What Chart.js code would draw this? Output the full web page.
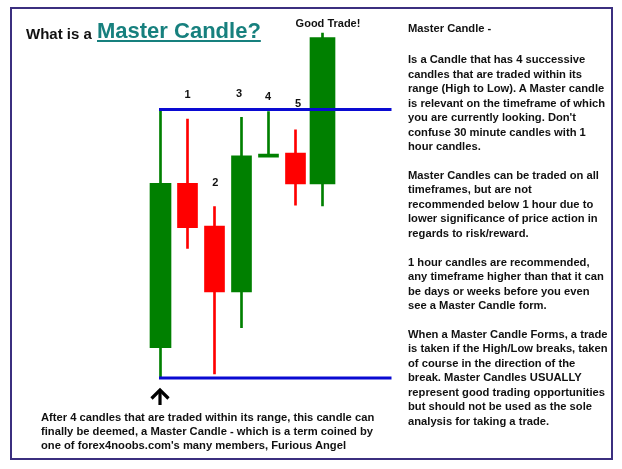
<!DOCTYPE html>
<html>
<head>
<meta charset="utf-8">
<script src="https://cdn.jsdelivr.net/npm/chart.js@4"></script>
<style>
  html, body { margin: 0; padding: 0; background: #fff; }
  #wrap { position: relative; width: 622px; height: 469px; overflow: hidden; font-family: "Liberation Sans", Arial, sans-serif; color: #111; }
  #c { position: absolute; left: 0; top: 0; }
  .frame { position: absolute; left: 10px; top: 7px; width: 603px; height: 453px; box-sizing: border-box; border: 2px solid #3b2f7f; }
  .t { position: absolute; white-space: nowrap; font-weight: bold; }
  .s11 { font-size: 11px; line-height: 11px; }
  .para { font-size: 11.2px; line-height: 14.45px; }
</style>
</head>
<body>
<div id="wrap">
  <canvas id="c" width="622" height="469"></canvas>
  <div class="frame"></div>
  <div class="t" style="left:26px;top:26.3px;font-size:15px;line-height:15px;">What is a</div>
  <div class="t" style="left:97px;top:20.4px;font-size:22px;line-height:22px;color:#17807e;text-decoration:underline;text-decoration-thickness:2px;text-underline-offset:2px;">Master Candle?</div>
  <div class="t s11" style="left:278px;width:100px;text-align:center;top:18px;">Good Trade!</div>
  <div class="t s11" id="lab1" style="left:184.6px;top:88.6px;">1</div>
  <div class="t s11" id="lab2" style="left:212.2px;top:176.9px;">2</div>
  <div class="t s11" id="lab3" style="left:235.9px;top:87.9px;">3</div>
  <div class="t s11" id="lab4" style="left:264.9px;top:90.6px;">4</div>
  <div class="t s11" id="lab5" style="left:294.9px;top:97.9px;">5</div>
  <div class="t para" style="left:408px;top:20.6px;">Master Candle -</div>
  <div class="t para" style="left:408px;top:52.3px;">Is a Candle that has 4 successive<br>candles that are traded within its<br>range (High to Low). A Master candle<br>is relevant on the timeframe of which<br>you are currently looking. Don't<br>confuse 30 minute candles with 1<br>hour candles.<br><br>Master Candles can be traded on all<br>timeframes, but are not<br>recommended below 1 hour due to<br>lower significance of price action in<br>regards to risk/reward.<br><br>1 hour candles are recommended,<br>any timeframe higher than that it can<br>be days or weeks before you even<br>see a Master Candle form.<br><br>When a Master Candle Forms, a trade<br>is taken if the High/Low breaks, taken<br>of course in the direction of the<br>break. Master Candles USUALLY<br>represent good trading opportunities<br>but should not be used as the sole<br>analysis for taking a trade.</div>
  <div class="t" style="left:41px;top:409.8px;font-size:11.2px;line-height:14.2px;">After 4 candles that are traded within its range, this candle can<br>finally be deemed, a Master Candle - which is a term coined by<br>one of forex4noobs.com's many members, Furious Angel</div>
  <svg style="position:absolute;left:0;top:0;" width="622" height="469">
    <path d="M151.5 398.5 L160 390 L168.5 398.5" fill="none" stroke="#000" stroke-width="3.2"/>
    <path d="M160 391 V405" fill="none" stroke="#000" stroke-width="3.2"/>
  </svg>
</div>
<script>
// Candles: 0 = master candle, 1..5 = candles inside its range / numbered, 6 = breakout ("Good Trade!")
const candles = ['Master', '1', '2', '3', '4', '5', 'Good Trade!'];
const opens  = [11.3, 72.5, 56.6, 32.1, 83.4, 83.8, 72.3];
const closes = [72.5, 56.0, 32.1, 82.7, 83.4, 72.3, 126.8];
const highs  = [100.0, 96.4, 63.8, 97.1, 99.2, 92.4, 128.5];
const lows   = [0.0, 48.3, 1.5, 18.7, 83.4, 64.4, 64.1];

const GREEN = '#008000', RED = '#ff0000', BLUE = '#0a0ad2';
const colorOf = i => (closes[i] >= opens[i] ? GREEN : RED);
const idx = candles.map((_, i) => i);
const bodyPts = sel => idx.filter(sel).map(i => ({ x: i, y: [opens[i], closes[i]] }));
const bodyColor = ctx => colorOf(ctx.raw.x);
const last = candles.length - 1;

const chart = new Chart(document.getElementById('c'), {
  type: 'bar',
  data: {
    datasets: [
      {
        label: 'wicks', order: 3, grouped: false, barThickness: 2,
        data: idx.map(i => ({ x: i, y: [lows[i], highs[i]] })),
        backgroundColor: bodyColor, borderWidth: 0
      },
      {
        label: 'master body', order: 2, grouped: false, barThickness: 21,
        data: bodyPts(i => i === 0),
        backgroundColor: bodyColor, borderWidth: 0
      },
      {
        label: 'inside bodies', order: 2, grouped: false, barThickness: 20, minBarLength: 3,
        data: bodyPts(i => i > 0 && i < last),
        backgroundColor: bodyColor, borderWidth: 0
      },
      {
        label: 'breakout body', order: 2, grouped: false, barThickness: 25,
        data: bodyPts(i => i === last),
        backgroundColor: bodyColor, borderWidth: 0
      },
      {
        type: 'line', label: 'master high', order: 1,
        data: [{ x: 0, y: highs[0] }, { x: 8.5, y: highs[0] }],
        borderColor: BLUE, borderWidth: 3, pointRadius: 0, borderCapStyle: 'square', clip: false
      },
      {
        type: 'line', label: 'master low', order: 1,
        data: [{ x: 0, y: lows[0] }, { x: 8.5, y: lows[0] }],
        borderColor: BLUE, borderWidth: 3, pointRadius: 0, borderCapStyle: 'square', clip: false
      }
    ]
  },
  options: {
    responsive: false,
    animation: false,
    events: [],
    layout: { padding: { left: 133.5, right: 232, top: 28.95, bottom: 64.15 } },
    plugins: { legend: { display: false }, tooltip: { enabled: false }, title: { display: false } },
    scales: {
      x: { type: 'linear', display: false, min: -1, max: 8.5, offset: false, grid: { display: false } },
      y: { type: 'linear', display: false, min: -10, max: 130, grid: { display: false } }
    }
  }
});
</script>
</body>
</html>
